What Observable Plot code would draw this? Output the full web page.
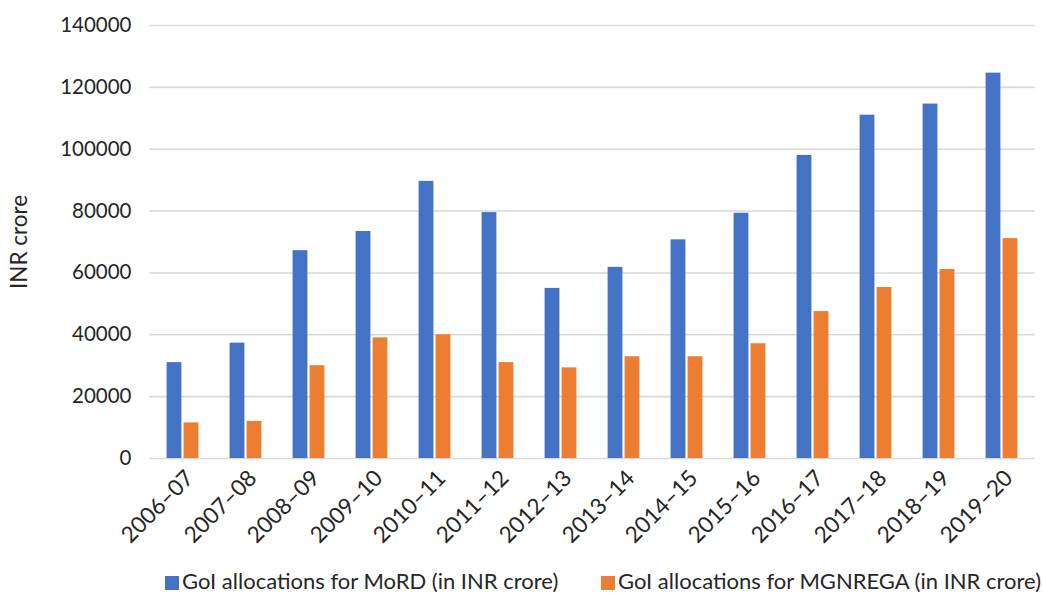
<!DOCTYPE html>
<html>
<head>
<meta charset="utf-8">
<script src="https://cdn.jsdelivr.net/npm/d3@7"></script>
<script src="https://cdn.jsdelivr.net/npm/@observablehq/plot@0.6"></script>
<style>
  html, body { margin: 0; padding: 0; background: #fff; }
  #chart { width: 1043px; height: 565px; }
  #legend { position: relative; width: 1043px; height: 30px; font-family: Lato, "Open Sans", sans-serif; font-size: 22px; color: #262626; }
  .item { position: absolute; top: 3px; height: 26px; line-height: 26px; white-space: nowrap; }
  .sw { display: inline-block; width: 14px; height: 14px; margin-right: 3px; vertical-align: -1px; }
</style>
</head>
<body>
<div id="chart"></div>
<div id="legend"></div>
<script>
const categories = ["2006–07","2007–08","2008–09","2009–10","2010–11","2011–12","2012–13","2013–14","2014–15","2015–16","2016–17","2017–18","2018–19","2019–20"];
const mord = [31000, 37300, 67200, 73400, 89600, 79500, 55000, 61800, 70700, 79300, 98000, 111000, 114600, 124600];
const mgnrega = [11500, 12000, 30000, 39000, 40000, 31000, 29300, 32900, 32900, 37100, 47500, 55300, 61100, 71100];
const seriesNames = ["GoI allocations for MoRD (in INR crore)", "GoI allocations for MGNREGA (in INR crore)"];
const colors = ["#4472C4", "#ED7D31"];
const yTicks = [0, 20000, 40000, 60000, 80000, 100000, 120000, 140000];

const rows = categories.map((c, i) => ({cat: c, mord: mord[i], mgnrega: mgnrega[i]}));

const chart = Plot.plot({
  width: 1043,
  height: 565,
  marginTop: 25,
  marginLeft: 149,
  marginRight: 8,
  marginBottom: 107,
  style: {fontFamily: "Lato, 'Open Sans', sans-serif", fontSize: "20.5px", color: "#262626", background: "#fff"},
  x: {domain: categories, padding: 0},
  y: {domain: [0, 140000]},
  marks: [
    Plot.gridY(yTicks, {stroke: "#d9d9d9", strokeOpacity: 1, strokeWidth: 1.6}),
    Plot.barY(rows, {x: "cat", y: "mord", fill: colors[0], insetLeft: 15.6, insetRight: 32.6}),
    Plot.barY(rows, {x: "cat", y: "mgnrega", fill: colors[1], insetLeft: 32.6, insetRight: 15.6}),
    Plot.axisY({ticks: yTicks, tickSize: 0, tickPadding: 18, tickFormat: d => String(d), label: null}),
    Plot.axisY({ticks: [], tickSize: 0, fontSize: 22.5,
      label: "INR crore", labelAnchor: "center", labelArrow: "none", labelOffset: 138}),
    Plot.axisX({tickRotate: -45, tickSize: 0, tickPadding: 8, fontSize: 22.5, dx: 7, dy: 8, label: null})
  ]
});
document.getElementById("chart").appendChild(chart);

const legend = document.getElementById("legend");
const lefts = [165, 601];
seriesNames.forEach((name, i) => {
  const it = document.createElement("div");
  it.className = "item";
  it.style.left = lefts[i] + "px";
  it.innerHTML = `<span class="sw" style="background:${colors[i]}"></span>${name}`;
  legend.appendChild(it);
});
</script>
</body>
</html>
